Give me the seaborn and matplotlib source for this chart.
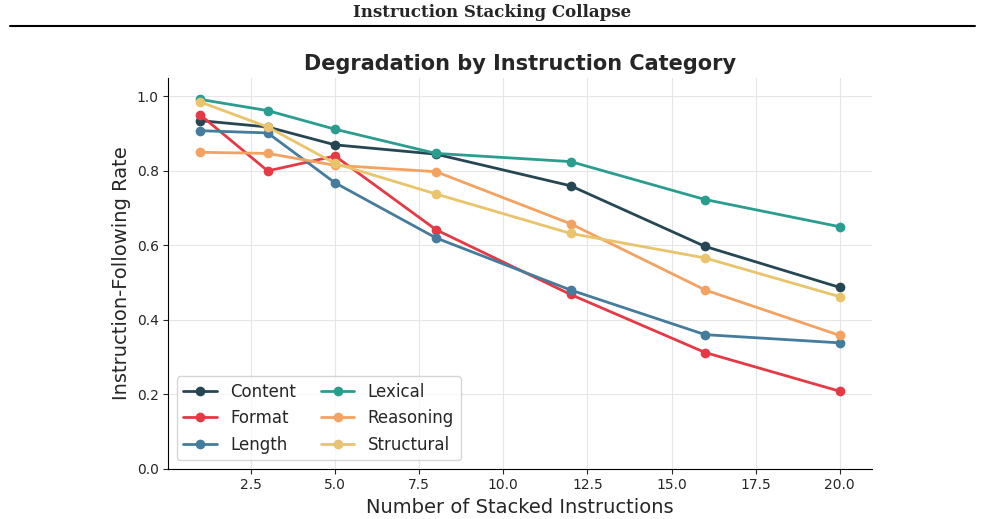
import matplotlib
matplotlib.use("Agg")
import matplotlib.pyplot as plt
import pandas as pd
import seaborn as sns

stacked = [1, 3, 5, 8, 12, 16, 20]
content = [0.935, 0.918, 0.870, 0.845, 0.760, 0.597, 0.487]
format_ = [0.950, 0.800, 0.840, 0.642, 0.468, 0.312, 0.208]
length = [0.908, 0.902, 0.768, 0.620, 0.480, 0.360, 0.338]
lexical = [0.992, 0.962, 0.912, 0.847, 0.825, 0.723, 0.650]
reasoning = [0.850, 0.847, 0.815, 0.798, 0.658, 0.480, 0.358]
structural = [0.985, 0.918, 0.820, 0.738, 0.632, 0.566, 0.462]

categories = ["Content", "Format", "Length", "Lexical", "Reasoning", "Structural"]
colors = ["#264653", "#e63946", "#457b9d", "#2a9d8f", "#f4a261", "#e9c46a"]

series = [content, format_, length, lexical, reasoning, structural]
df = pd.DataFrame([
    {"n": n, "rate": v, "category": c}
    for c, vals in zip(categories, series)
    for n, v in zip(stacked, vals)
])

sns.set_style("white")
fig = plt.figure(figsize=(9.85, 5.19), dpi=100)
ax = fig.add_axes([0.171, 0.097, 0.714, 0.753])

sns.lineplot(data=df, x="n", y="rate", hue="category", hue_order=categories,
             palette=colors, marker="o", markersize=7, markeredgewidth=0,
             linewidth=2, ax=ax)

ax.set_ylim(0, 1.05)
ax.set_xlim(0.05, 20.95)
ax.grid(True, color="#e6e6e6", linewidth=0.8)
ax.set_axisbelow(True)
for s in ["top", "right"]:
    ax.spines[s].set_visible(False)
for s in ["left", "bottom"]:
    ax.spines[s].set_color("black")
    ax.spines[s].set_linewidth(0.8)
ax.tick_params(axis="both", labelsize=10, length=3.5, left=True, bottom=True)
ax.set_xlabel("Number of Stacked Instructions", fontsize=14)
ax.set_ylabel("Instruction-Following Rate", fontsize=14)
ax.set_title("Degradation by Instruction Category", fontsize=15, fontweight="bold", pad=6)
ax.legend(loc="lower left", ncol=2, fontsize=12, frameon=True, title=None,
          handlelength=2, columnspacing=1.5)

fig.text(0.5, 0.975, "Instruction Stacking Collapse", ha="center", va="center",
         fontsize=12, fontweight="bold", family="DejaVu Serif")
fig.add_artist(plt.Line2D([0.01, 0.99], [0.95, 0.95], color="black", linewidth=1.5,
                          transform=fig.transFigure))

fig.savefig("out.png", dpi=100)
